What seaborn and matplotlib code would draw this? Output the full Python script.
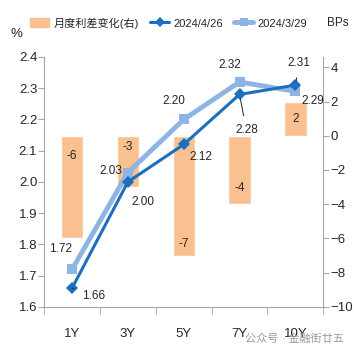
import numpy as np
import pandas as pd
import matplotlib
matplotlib.use('Agg')
import matplotlib.pyplot as plt
from matplotlib.lines import Line2D
from matplotlib.patches import Patch
import seaborn as sns

tenors = ['1Y', '3Y', '5Y', '7Y', '10Y']
y_0426 = [1.66, 2.00, 2.12, 2.28, 2.31]
y_0329 = [1.72, 2.03, 2.20, 2.32, 2.29]
spread_bp = [-6, -3, -7, -4, 2]

sns.set_style('white')
plt.rcParams['font.family'] = ['Liberation Sans', 'Noto Sans CJK SC', 'DejaVu Sans']

dark = '#1C6EBE'
light = '#8DB4E2'
peach = '#FAC090'
axc = '#A6A6A6'

fig = plt.figure(figsize=(3.56, 3.54), dpi=100)
ax = fig.add_axes([0.124, 0.133, 0.784, 0.706])
ax2 = ax.twinx()
ax.set_zorder(ax2.get_zorder() + 1)
ax.patch.set_visible(False)

df = pd.DataFrame({'tenor': tenors, 'a': y_0426, 'b': y_0329, 'bp': spread_bp})
xs = np.arange(len(tenors))

sns.barplot(data=df, x='tenor', y='bp', color=peach, width=0.4, ax=ax2, saturation=1)
sns.lineplot(x=xs, y=df['b'], color=light, lw=3.5, marker='s',
             markersize=7, markeredgewidth=0, ax=ax)
sns.lineplot(x=xs, y=df['a'], color=dark, lw=2.2, marker='D',
             markersize=6, markeredgewidth=0, ax=ax)

ax.set_xlim(-0.5, 4.5)
ax2.set_xlim(-0.5, 4.5)
ax.set_ylim(1.6, 2.4)
ticks = np.arange(1.6, 2.41, 0.1)
ax.set_yticks(ticks)
ax.set_yticklabels([f'{v:.1f}' for v in ticks])
ax2.set_ylim(-10, 4.6)
ax2.set_yticks(range(-10, 5, 2))
ax.set_xticks(xs)
ax.set_xticklabels(tenors)
ax.set_xticks(np.arange(-0.5, 4.6, 1), minor=True)
for a in (ax, ax2):
    a.set_xlabel('')
    a.set_ylabel('')
    for s in a.spines.values():
        s.set_visible(False)
ax.spines['left'].set_visible(True)
ax.spines['left'].set_color(axc)
ax.spines['bottom'].set_visible(True)
ax.spines['bottom'].set_color(axc)
ax2.spines['right'].set_visible(True)
ax2.spines['right'].set_color(axc)

ax.tick_params(axis='y', left=True, length=4, color=axc, labelsize=9.5, pad=1)
ax.tick_params(axis='x', which='major', bottom=False, labelsize=9.5, pad=12)
ax.tick_params(axis='x', which='minor', bottom=True, length=5, color=axc)
ax2.tick_params(axis='y', right=True, length=4, color=axc, labelsize=9.5, pad=1)

# data labels (offsets in pixels)
fs = 8.5
lead = dict(arrowstyle='-', color='#222222', lw=0.7, shrinkA=4, shrinkB=3)
offs_a = [(10, -8, 'left', True), (4, -20, 'left', False), (6, -13, 'left', False),
          (7, -36, 'center', True), (4, 22, 'center', True)]
for i, (v, (dx, dy, ha, ln)) in enumerate(zip(y_0426, offs_a)):
    ax.annotate(f'{v:.2f}', (i, v), xytext=(dx, dy), textcoords='offset pixels',
                ha=ha, va='center', fontsize=fs, arrowprops=lead if ln else None)
offs_b = [(-12, 20, 'center'), (-6, 2, 'right'), (-10, 18, 'center'),
          (-10, 17, 'center'), (6, -10, 'left')]
for i, (v, (dx, dy, ha)) in enumerate(zip(y_0329, offs_b)):
    ax.annotate(f'{v:.2f}', (i, v), xytext=(dx, dy), textcoords='offset pixels',
                ha=ha, va='center', fontsize=fs)
offs_bar = [(0, -20), (0, -11), (0, 12), (0, 16), (0, 0)]
for i, (b, (dx, dy)) in enumerate(zip(spread_bp, offs_bar)):
    base = b / 2 if b > 0 else (b if i in (2, 3) else 0)
    ax2.annotate(f'{b}', (i, base), xytext=(dx, dy), textcoords='offset pixels',
                 ha='center', va='center', fontsize=fs)

# legend
h_bar = Patch(color=peach)
h_a = Line2D([], [], color=dark, lw=2.2, marker='D', markersize=5, markeredgewidth=0)
h_b = Line2D([], [], color=light, lw=3.5, marker='s', markersize=6, markeredgewidth=0)
fig.legend([h_bar, h_a, h_b], ['月度利差变化(右)', '2024/4/26', '2024/3/29'],
           loc='center left', bbox_to_anchor=(0.07, 0.935), ncol=3, frameon=False,
           fontsize=8, handlelength=1.7, handleheight=0.9, columnspacing=1.0,
           handletextpad=0.4, borderpad=0)
fig.text(0.918, 0.935, 'BPs', fontsize=8.5, va='center', ha='left')
fig.text(0.03, 0.905, '%', fontsize=9.5, va='center', ha='left')
fig.text(0.965, 0.042, '公众号 · 金融街廿五', fontsize=8, color='#9A9A9A',
         ha='right', va='center')

fig.savefig('out.png', dpi=100)
